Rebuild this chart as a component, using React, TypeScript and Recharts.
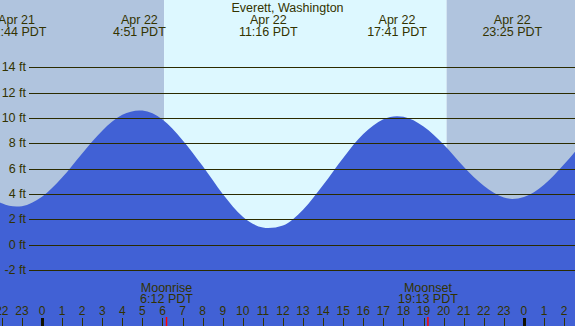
import { Area, ComposedChart, ReferenceArea, ReferenceLine, XAxis, YAxis } from 'recharts'

// hours from Apr 22 00:00 PDT, tide height in ft
const hours = [-3, -2, -1.27, -1, 0, 1, 2, 3, 4, 4.85, 5, 6, 7, 8, 9, 10, 11, 11.27, 12, 13, 14, 15, 16, 17, 17.68, 18, 19, 20, 21, 22, 23, 23.42, 24, 25, 26, 27]
const heights = [4.35, 3.26, 3.0, 3.03, 3.77, 5.29, 7.2, 9.0, 10.25, 10.6, 10.59, 9.88, 8.25, 6.2, 4.0, 2.2, 1.34, 1.3, 1.5, 2.75, 4.7, 6.85, 8.73, 9.91, 10.15, 10.1, 9.33, 7.9, 6.15, 4.65, 3.72, 3.6, 3.75, 4.73, 6.35, 8.21]

const tideTimes = [-1.27, 4.85, 11.27, 17.68, 23.42]
const tideDates = ['Apr 21', 'Apr 22', 'Apr 22', 'Apr 22', 'Apr 22']
const tideLabels = ['22:44 PDT', '4:51 PDT', '11:16 PDT', '17:41 PDT', '23:25 PDT']

const moonTimes = [6.2, 19.22]
const moonNames = ['Moonrise', 'Moonset']
const moonLabels = ['6:12 PDT', '19:13 PDT']

const sunrise = 6.08
const sunset = 20.15

const gridFeet = [-2, 0, 2, 4, 6, 8, 10, 12, 14]
const hourTicks = [-2, -1, 0, 1, 2, 3, 4, 5, 6, 7, 8, 9, 10, 11, 12, 13, 14, 15, 16, 17, 18, 19, 20, 21, 22, 23, 24, 25, 26]

const W = 575
const H = 326
const X_MIN = -2.092
const X_MAX = 26.544
const Y_MIN = -6.44
const Y_MAX = 19.33

const FONT = '"Liberation Sans", Arial, sans-serif'
const INK = '#333300'

const data = hours.map((h, i) => ({ h, ft: heights[i] }))

const crisp = (v: number) => Math.round(v) + 0.5

export default function App() {
  return (
    <div style={{ position: 'absolute', left: 0, top: 0, width: W, height: H }}>
      <ComposedChart width={W} height={H} data={data} margin={{ top: 0, right: 0, bottom: 0, left: 0 }}>
        <XAxis type="number" dataKey="h" domain={[X_MIN, X_MAX]} allowDataOverflow hide />
        <YAxis type="number" domain={[Y_MIN, Y_MAX]} allowDataOverflow hide />
        <ReferenceArea x1={X_MIN} x2={sunrise} y1={Y_MIN} y2={Y_MAX} fill="#b0c4de" fillOpacity={1} stroke="none" />
        <ReferenceArea x1={sunrise} x2={sunset} y1={Y_MIN} y2={Y_MAX} fill="#ddf8ff" fillOpacity={1} stroke="none" />
        <ReferenceArea x1={sunset} x2={X_MAX} y1={Y_MIN} y2={Y_MAX} fill="#b0c4de" fillOpacity={1} stroke="none" />
        <Area
          type="monotone"
          dataKey="ft"
          baseValue="dataMin"
          stroke="none"
          fill="#4161d5"
          fillOpacity={1}
          dot={false}
          activeDot={false}
          isAnimationActive={false}
        />
        {gridFeet.map((v) => (
          <ReferenceLine
            key={`g${v}`}
            y={v}
            stroke="none"
            label={(p: any) => (
              <g>
                <line x1={29} x2={W} y1={crisp(p.viewBox.y)} y2={crisp(p.viewBox.y)} stroke="#2b2b00" strokeWidth={1} />
                <text x={26} y={p.viewBox.y + 4} textAnchor="end" fontSize={12.5} fontFamily={FONT} fill={INK}>
                  {`${v} ft`}
                </text>
              </g>
            )}
          />
        ))}
        {tideTimes.map((t, i) => (
          <ReferenceLine
            key={`t${i}`}
            x={t}
            stroke="none"
            label={(p: any) => (
              <g>
                <text x={p.viewBox.x} y={24} textAnchor="middle" fontSize={12.5} fontFamily={FONT} fill={INK}>
                  {tideDates[i]}
                </text>
                <text x={p.viewBox.x} y={36} textAnchor="middle" fontSize={12.5} fontFamily={FONT} fill={INK}>
                  {tideLabels[i]}
                </text>
              </g>
            )}
          />
        ))}
        {hourTicks.map((v) => {
          const hh = ((v % 24) + 24) % 24
          return (
            <ReferenceLine
              key={`h${v}`}
              x={v}
              stroke="none"
              label={(p: any) => (
                <g>
                  <text x={p.viewBox.x} y={315} textAnchor="middle" fontSize={12} fontFamily={FONT} fill={INK}>
                    {String(hh)}
                  </text>
                  {hh === 0 ? (
                    <rect x={Math.round(p.viewBox.x) - 1} y={318} width={3} height={8} fill="#111100" />
                  ) : (
                    <line x1={crisp(p.viewBox.x)} x2={crisp(p.viewBox.x)} y1={318} y2={326} stroke={INK} strokeWidth={1} />
                  )}
                </g>
              )}
            />
          )
        })}
        {moonTimes.map((t, i) => (
          <ReferenceLine
            key={`m${i}`}
            x={t}
            stroke="none"
            label={(p: any) => (
              <g>
                <text x={p.viewBox.x} y={292} textAnchor="middle" fontSize={12.5} fontFamily={FONT} fill={INK}>
                  {moonNames[i]}
                </text>
                <text x={p.viewBox.x} y={303} textAnchor="middle" fontSize={12.5} fontFamily={FONT} fill={INK}>
                  {moonLabels[i]}
                </text>
                <line x1={p.viewBox.x} x2={p.viewBox.x} y1={317} y2={326} stroke="#ff0000" strokeWidth={1.5} />
              </g>
            )}
          />
        ))}
      </ComposedChart>
      <div
        style={{
          position: 'absolute',
          left: 0,
          top: 1,
          width: W,
          textAlign: 'center',
          fontFamily: FONT,
          fontSize: 12.5,
          lineHeight: '14px',
          color: INK,
        }}
      >
        Everett, Washington
      </div>
    </div>
  )
}
